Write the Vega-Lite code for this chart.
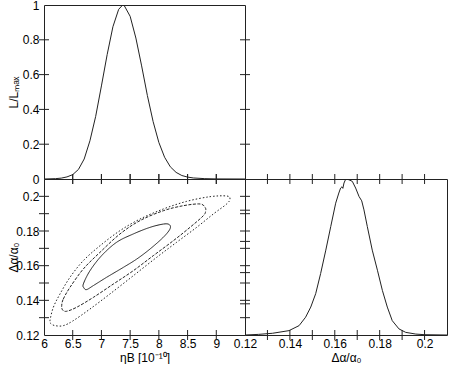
{
  "$schema": "https://vega.github.io/schema/vega-lite/v6.json",
  "padding": {"left": 6, "top": -2, "right": 0, "bottom": 0},
  "background": "white",
  "config": {
    "view": {"stroke": "#222", "strokeWidth": 1},
    "tick": {"color": "#222", "thickness": 1, "opacity": 1},
    "axis": {
      "grid": false, "domain": false, "ticks": false, "tickSize": 0,
      "labelFont": "Liberation Sans", "titleFont": "Liberation Sans",
      "labelFontSize": 12, "titleFontSize": 12, "titleFontWeight": "normal",
      "labelColor": "#000", "titleColor": "#000",
      "labelFlush": false, "labelOverlap": false, "labelBound": false
    }
  },
  "datasets": {
    "top": [
      {"eta": 6.0, "L": 0}, {"eta": 6.2, "L": 0.002}, {"eta": 6.3, "L": 0.005}, {"eta": 6.4, "L": 0.012},
      {"eta": 6.5, "L": 0.025}, {"eta": 6.6, "L": 0.055}, {"eta": 6.7, "L": 0.115}, {"eta": 6.8, "L": 0.22},
      {"eta": 6.9, "L": 0.36}, {"eta": 7.0, "L": 0.535}, {"eta": 7.1, "L": 0.715}, {"eta": 7.2, "L": 0.875},
      {"eta": 7.3, "L": 0.975}, {"eta": 7.37, "L": 1.0}, {"eta": 7.4, "L": 0.995}, {"eta": 7.5, "L": 0.935},
      {"eta": 7.6, "L": 0.81}, {"eta": 7.7, "L": 0.65}, {"eta": 7.8, "L": 0.48}, {"eta": 7.9, "L": 0.33},
      {"eta": 8.0, "L": 0.21}, {"eta": 8.1, "L": 0.125}, {"eta": 8.2, "L": 0.07}, {"eta": 8.3, "L": 0.038},
      {"eta": 8.4, "L": 0.02}, {"eta": 8.5, "L": 0.011}, {"eta": 8.6, "L": 0.006}, {"eta": 8.8, "L": 0.002},
      {"eta": 9.0, "L": 0.0005}, {"eta": 9.5, "L": 0}
    ],
    "contour": [
      {"c": "a", "i": 0, "x": 6.685, "y": 0.1494}, {"c": "a", "i": 1, "x": 6.801, "y": 0.1571},
      {"c": "a", "i": 2, "x": 7.004, "y": 0.1658}, {"c": "a", "i": 3, "x": 7.265, "y": 0.1735},
      {"c": "a", "i": 4, "x": 7.555, "y": 0.1783}, {"c": "a", "i": 5, "x": 7.846, "y": 0.1821},
      {"c": "a", "i": 6, "x": 8.078, "y": 0.1840}, {"c": "a", "i": 7, "x": 8.182, "y": 0.1837},
      {"c": "a", "i": 8, "x": 8.194, "y": 0.1812}, {"c": "a", "i": 9, "x": 8.078, "y": 0.1764},
      {"c": "a", "i": 10, "x": 7.846, "y": 0.1696}, {"c": "a", "i": 11, "x": 7.614, "y": 0.1638},
      {"c": "a", "i": 12, "x": 7.381, "y": 0.1590}, {"c": "a", "i": 13, "x": 7.091, "y": 0.1533},
      {"c": "a", "i": 14, "x": 6.859, "y": 0.1485}, {"c": "a", "i": 15, "x": 6.743, "y": 0.1462},
      {"c": "a", "i": 16, "x": 6.697, "y": 0.1471},
      {"c": "b", "i": 0, "x": 6.308, "y": 0.1369}, {"c": "b", "i": 1, "x": 6.337, "y": 0.1408},
      {"c": "b", "i": 2, "x": 6.453, "y": 0.1475}, {"c": "b", "i": 3, "x": 6.685, "y": 0.1581},
      {"c": "b", "i": 4, "x": 6.975, "y": 0.1677}, {"c": "b", "i": 5, "x": 7.323, "y": 0.1783},
      {"c": "b", "i": 6, "x": 7.672, "y": 0.1860}, {"c": "b", "i": 7, "x": 8.078, "y": 0.1917},
      {"c": "b", "i": 8, "x": 8.426, "y": 0.1946}, {"c": "b", "i": 9, "x": 8.716, "y": 0.1956},
      {"c": "b", "i": 10, "x": 8.803, "y": 0.1937}, {"c": "b", "i": 11, "x": 8.815, "y": 0.1917},
      {"c": "b", "i": 12, "x": 8.774, "y": 0.1888}, {"c": "b", "i": 13, "x": 8.542, "y": 0.1821},
      {"c": "b", "i": 14, "x": 8.252, "y": 0.1744}, {"c": "b", "i": 15, "x": 7.904, "y": 0.1658},
      {"c": "b", "i": 16, "x": 7.555, "y": 0.1571}, {"c": "b", "i": 17, "x": 7.207, "y": 0.1494},
      {"c": "b", "i": 18, "x": 6.859, "y": 0.1417}, {"c": "b", "i": 19, "x": 6.569, "y": 0.1360},
      {"c": "b", "i": 20, "x": 6.395, "y": 0.1337}, {"c": "b", "i": 21, "x": 6.325, "y": 0.1344},
      {"c": "c", "i": 0, "x": 6.104, "y": 0.1283}, {"c": "c", "i": 1, "x": 6.163, "y": 0.1360},
      {"c": "c", "i": 2, "x": 6.279, "y": 0.1437}, {"c": "c", "i": 3, "x": 6.453, "y": 0.1533},
      {"c": "c", "i": 4, "x": 6.685, "y": 0.1629}, {"c": "c", "i": 5, "x": 6.975, "y": 0.1715},
      {"c": "c", "i": 6, "x": 7.323, "y": 0.1802}, {"c": "c", "i": 7, "x": 7.672, "y": 0.1869},
      {"c": "c", "i": 8, "x": 8.078, "y": 0.1927}, {"c": "c", "i": 9, "x": 8.484, "y": 0.1971},
      {"c": "c", "i": 10, "x": 8.891, "y": 0.1998}, {"c": "c", "i": 11, "x": 9.181, "y": 0.2002},
      {"c": "c", "i": 12, "x": 9.239, "y": 0.1985}, {"c": "c", "i": 13, "x": 9.181, "y": 0.1956},
      {"c": "c", "i": 14, "x": 8.948, "y": 0.1898}, {"c": "c", "i": 15, "x": 8.658, "y": 0.1821},
      {"c": "c", "i": 16, "x": 8.310, "y": 0.1735}, {"c": "c", "i": 17, "x": 7.962, "y": 0.1648},
      {"c": "c", "i": 18, "x": 7.555, "y": 0.1542}, {"c": "c", "i": 19, "x": 7.149, "y": 0.1437},
      {"c": "c", "i": 20, "x": 6.801, "y": 0.1350}, {"c": "c", "i": 21, "x": 6.511, "y": 0.1283},
      {"c": "c", "i": 22, "x": 6.337, "y": 0.1254}, {"c": "c", "i": 23, "x": 6.192, "y": 0.1254},
      {"c": "c", "i": 24, "x": 6.116, "y": 0.1267}
    ],
    "hist": [
      {"d": 0.12, "L": 0}, {"d": 0.126, "L": 0.004}, {"d": 0.1322, "L": 0.011}, {"d": 0.1396, "L": 0.028},
      {"d": 0.1441, "L": 0.06}, {"d": 0.147, "L": 0.114}, {"d": 0.1493, "L": 0.179}, {"d": 0.1515, "L": 0.265},
      {"d": 0.1537, "L": 0.394}, {"d": 0.156, "L": 0.544}, {"d": 0.1582, "L": 0.695}, {"d": 0.1604, "L": 0.845},
      {"d": 0.1618, "L": 0.91}, {"d": 0.1626, "L": 0.942}, {"d": 0.1632, "L": 0.95}, {"d": 0.1636, "L": 0.94},
      {"d": 0.1641, "L": 0.974}, {"d": 0.1649, "L": 1.0}, {"d": 0.1663, "L": 0.995}, {"d": 0.1678, "L": 0.985},
      {"d": 0.1693, "L": 0.942}, {"d": 0.1708, "L": 0.888}, {"d": 0.172, "L": 0.86}, {"d": 0.173, "L": 0.802},
      {"d": 0.1745, "L": 0.695}, {"d": 0.1767, "L": 0.544}, {"d": 0.179, "L": 0.415}, {"d": 0.1812, "L": 0.286},
      {"d": 0.1834, "L": 0.179}, {"d": 0.1856, "L": 0.092}, {"d": 0.1886, "L": 0.039}, {"d": 0.1916, "L": 0.017},
      {"d": 0.1961, "L": 0.006}, {"d": 0.2, "L": 0.002}, {"d": 0.21, "L": 0}
    ],
    "tk_eta": [{"v": 6.5}, {"v": 7}, {"v": 7.5}, {"v": 8}, {"v": 8.5}, {"v": 9}],
    "tk_L": [{"v": 0.2}, {"v": 0.4}, {"v": 0.6}, {"v": 0.8}],
    "tk_a": [{"v": 0.13}, {"v": 0.14}, {"v": 0.15}, {"v": 0.16}, {"v": 0.17}, {"v": 0.18}, {"v": 0.19}, {"v": 0.2}]
  },
  "columns": 2,
  "spacing": 0,
  "bounds": "flush",
  "align": "each",
  "concat": [
    {
      "width": 201, "height": 174,
      "layer": [
        {
          "data": {"name": "top"},
          "mark": {"type": "line", "color": "#222", "strokeWidth": 1, "clip": true},
          "encoding": {
            "x": {"field": "eta", "type": "quantitative", "scale": {"domain": [6, 9.5], "nice": false, "zero": false}, "axis": null},
            "y": {"field": "L", "type": "quantitative", "scale": {"domain": [0, 1], "nice": false},
                  "axis": {"values": [0, 0.2, 0.4, 0.6, 0.8, 1], "format": "~g", "title": "L/Lₘₐₓ", "labelPadding": 5, "minExtent": 20, "maxExtent": 20, "titlePadding": 4}}
          }
        },
        {
          "data": {"name": "tk_eta"},
          "mark": {"type": "tick", "size": 10, "orient": "vertical"},
          "encoding": {
            "x": {"field": "v", "type": "quantitative", "axis": null},
            "y": {"datum": 0, "type": "quantitative",
                  "axis": {"values": [0, 0.2, 0.4, 0.6, 0.8, 1], "format": "~g", "title": "L/Lₘₐₓ", "labelPadding": 5, "minExtent": 20, "maxExtent": 20, "titlePadding": 4}}
          }
        },
        {
          "data": {"name": "tk_L"},
          "mark": {"type": "tick", "size": 10, "orient": "horizontal"},
          "encoding": {
            "y": {"field": "v", "type": "quantitative",
                  "axis": {"values": [0, 0.2, 0.4, 0.6, 0.8, 1], "format": "~g", "title": "L/Lₘₐₓ", "labelPadding": 5, "minExtent": 20, "maxExtent": 20, "titlePadding": 4}},
            "x": {"datum": 6, "type": "quantitative", "axis": null}
          }
        },
        {
          "data": {"name": "tk_L"},
          "mark": {"type": "tick", "size": 10, "orient": "horizontal"},
          "encoding": {
            "y": {"field": "v", "type": "quantitative",
                  "axis": {"values": [0, 0.2, 0.4, 0.6, 0.8, 1], "format": "~g", "title": "L/Lₘₐₓ", "labelPadding": 5, "minExtent": 20, "maxExtent": 20, "titlePadding": 4}},
            "x": {"datum": 9.5, "type": "quantitative", "axis": null}
          }
        }
      ]
    },
    {
      "width": 202, "height": 174,
      "data": {"values": [{"a": 0, "b": 0}]},
      "mark": {"type": "point", "opacity": 0},
      "view": {"stroke": null},
      "encoding": {
        "x": {"field": "a", "type": "quantitative", "axis": null},
        "y": {"field": "b", "type": "quantitative", "axis": null}
      }
    },
    {
      "width": 201, "height": 156,
      "layer": [
        {
          "data": {"name": "contour"},
          "mark": {"type": "line", "color": "#222", "strokeWidth": 1, "interpolate": "cardinal-closed", "clip": true},
          "encoding": {
            "x": {"field": "x", "type": "quantitative", "scale": {"domain": [6, 9.5], "nice": false, "zero": false},
                  "axis": {"values": [6, 6.5, 7, 7.5, 8, 8.5, 9], "format": "~g", "title": "ηB [10⁻¹⁰]", "labelPadding": 3, "titlePadding": 3}},
            "y": {"field": "y", "type": "quantitative", "scale": {"domain": [0.12, 0.21], "nice": false, "zero": false},
                  "axis": {"values": [0.12, 0.14, 0.16, 0.18, 0.2], "format": "~g", "title": "Δα/α₀", "labelPadding": 5, "minExtent": 20, "maxExtent": 20, "titlePadding": 4}},
            "detail": {"field": "c"},
            "order": {"field": "i", "type": "quantitative"},
            "strokeDash": {"field": "c", "type": "nominal",
                           "scale": {"domain": ["a", "b", "c"], "range": [[1, 0], [3, 1.5], [1.5, 2]]}, "legend": null}
          }
        },
        {
          "data": {"name": "tk_eta"},
          "mark": {"type": "tick", "size": 10, "orient": "vertical"},
          "encoding": {
            "x": {"field": "v", "type": "quantitative",
                  "axis": {"values": [6, 6.5, 7, 7.5, 8, 8.5, 9], "format": "~g", "title": "ηB [10⁻¹⁰]", "labelPadding": 3, "titlePadding": 3}},
            "y": {"datum": 0.12, "type": "quantitative",
                  "axis": {"values": [0.12, 0.14, 0.16, 0.18, 0.2], "format": "~g", "title": "Δα/α₀", "labelPadding": 5, "minExtent": 20, "maxExtent": 20, "titlePadding": 4}}
          }
        },
        {
          "data": {"name": "tk_eta"},
          "mark": {"type": "tick", "size": 10, "orient": "vertical"},
          "encoding": {
            "x": {"field": "v", "type": "quantitative",
                  "axis": {"values": [6, 6.5, 7, 7.5, 8, 8.5, 9], "format": "~g", "title": "ηB [10⁻¹⁰]", "labelPadding": 3, "titlePadding": 3}},
            "y": {"datum": 0.21, "type": "quantitative",
                  "axis": {"values": [0.12, 0.14, 0.16, 0.18, 0.2], "format": "~g", "title": "Δα/α₀", "labelPadding": 5, "minExtent": 20, "maxExtent": 20, "titlePadding": 4}}
          }
        },
        {
          "data": {"name": "tk_a"},
          "mark": {"type": "tick", "size": 10, "orient": "horizontal"},
          "encoding": {
            "y": {"field": "v", "type": "quantitative",
                  "axis": {"values": [0.12, 0.14, 0.16, 0.18, 0.2], "format": "~g", "title": "Δα/α₀", "labelPadding": 5, "minExtent": 20, "maxExtent": 20, "titlePadding": 4}},
            "x": {"datum": 6, "type": "quantitative",
                  "axis": {"values": [6, 6.5, 7, 7.5, 8, 8.5, 9], "format": "~g", "title": "ηB [10⁻¹⁰]", "labelPadding": 3, "titlePadding": 3}}
          }
        },
        {
          "data": {"name": "tk_a"},
          "mark": {"type": "tick", "size": 10, "orient": "horizontal"},
          "encoding": {
            "y": {"field": "v", "type": "quantitative",
                  "axis": {"values": [0.12, 0.14, 0.16, 0.18, 0.2], "format": "~g", "title": "Δα/α₀", "labelPadding": 5, "minExtent": 20, "maxExtent": 20, "titlePadding": 4}},
            "x": {"datum": 9.5, "type": "quantitative",
                  "axis": {"values": [6, 6.5, 7, 7.5, 8, 8.5, 9], "format": "~g", "title": "ηB [10⁻¹⁰]", "labelPadding": 3, "titlePadding": 3}}
          }
        }
      ]
    },
    {
      "width": 202, "height": 156,
      "layer": [
        {
          "data": {"name": "hist"},
          "mark": {"type": "line", "color": "#222", "strokeWidth": 1, "clip": true},
          "encoding": {
            "x": {"field": "d", "type": "quantitative", "scale": {"domain": [0.12, 0.21], "nice": false, "zero": false},
                  "axis": {"values": [0.12, 0.14, 0.16, 0.18, 0.2], "format": "~g", "title": "Δα/α₀", "labelPadding": 3, "titlePadding": 3}},
            "y": {"field": "L", "type": "quantitative", "scale": {"domain": [0, 1], "nice": false}, "axis": null}
          }
        },
        {
          "data": {"name": "tk_a"},
          "mark": {"type": "tick", "size": 10, "orient": "vertical"},
          "encoding": {
            "x": {"field": "v", "type": "quantitative",
                  "axis": {"values": [0.12, 0.14, 0.16, 0.18, 0.2], "format": "~g", "title": "Δα/α₀", "labelPadding": 3, "titlePadding": 3}},
            "y": {"datum": 0, "type": "quantitative", "axis": null}
          }
        },
        {
          "data": {"name": "tk_a"},
          "mark": {"type": "tick", "size": 10, "orient": "vertical"},
          "encoding": {
            "x": {"field": "v", "type": "quantitative",
                  "axis": {"values": [0.12, 0.14, 0.16, 0.18, 0.2], "format": "~g", "title": "Δα/α₀", "labelPadding": 3, "titlePadding": 3}},
            "y": {"datum": 1, "type": "quantitative", "axis": null}
          }
        },
        {
          "data": {"name": "tk_L"},
          "mark": {"type": "tick", "size": 10, "orient": "horizontal"},
          "encoding": {
            "y": {"field": "v", "type": "quantitative", "axis": null},
            "x": {"datum": 0.12, "type": "quantitative",
                  "axis": {"values": [0.12, 0.14, 0.16, 0.18, 0.2], "format": "~g", "title": "Δα/α₀", "labelPadding": 3, "titlePadding": 3}}
          }
        }
      ]
    }
  ]
}
